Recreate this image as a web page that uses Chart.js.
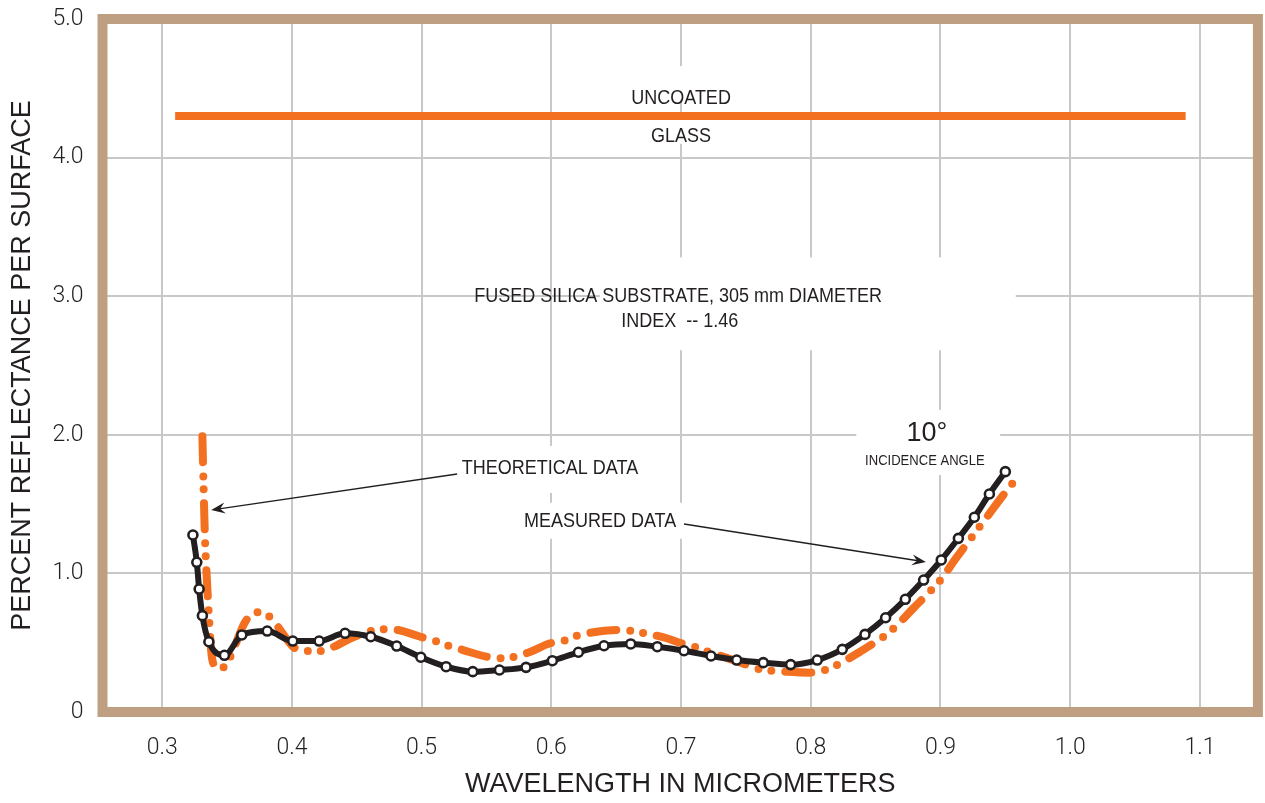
<!DOCTYPE html>
<html>
<head>
<meta charset="utf-8">
<title>Percent reflectance per surface</title>
<script src="https://cdn.jsdelivr.net/npm/chart.js@4.4.1/dist/chart.umd.min.js"></script>
<style>
  html, body { margin: 0; padding: 0; background: #fff; }
  #wrap { width: 1265px; height: 803px; }
</style>
</head>
<body>
<div id="wrap"><canvas id="reflChart" width="1265" height="803"></canvas></div>
<script>
// axis ticks
const xTicks = [0.3, 0.4, 0.5, 0.6, 0.7, 0.8, 0.9, 1.0, 1.1];
const yTicks = [0, 1, 2, 3, 4, 5];

// measured reflectance (%), wavelength in micrometers
const measuredWl = [0.3237, 0.3267, 0.3285, 0.331, 0.336, 0.348, 0.3614, 0.381, 0.4007, 0.421,
  0.441, 0.4608, 0.4808, 0.4994, 0.5189, 0.5394, 0.56, 0.5805, 0.6008, 0.6209,
  0.6406, 0.6612, 0.6817, 0.7023, 0.7231, 0.7429, 0.7634, 0.7845, 0.805, 0.8243,
  0.8418, 0.8577, 0.8729, 0.887, 0.9006, 0.9138, 0.9261, 0.9377, 0.95];
const measuredPct = [1.277, 1.08, 0.887, 0.695, 0.507, 0.409, 0.556, 0.584, 0.512, 0.512,
  0.568, 0.543, 0.476, 0.395, 0.327, 0.291, 0.303, 0.322, 0.37, 0.431,
  0.478, 0.491, 0.471, 0.442, 0.404, 0.375, 0.356, 0.342, 0.375, 0.452,
  0.56, 0.68, 0.813, 0.952, 1.097, 1.253, 1.405, 1.573, 1.734];

// theoretical reflectance (%)
const theoryWl = [0.331, 0.332, 0.333, 0.3345, 0.336, 0.338, 0.341, 0.345, 0.352, 0.364,
  0.372, 0.381, 0.388, 0.401, 0.41, 0.421, 0.432, 0.445, 0.459, 0.469,
  0.481, 0.499, 0.51, 0.519, 0.532, 0.55, 0.56, 0.57, 0.584, 0.599,
  0.609, 0.619, 0.635, 0.65, 0.66, 0.67, 0.689, 0.699, 0.71, 0.721,
  0.744, 0.758, 0.769, 0.781, 0.799, 0.81, 0.82, 0.838, 0.856, 0.864,
  0.879, 0.893, 0.9, 0.912, 0.924, 0.936, 0.948, 0.9555];
const theoryPct = [1.99, 1.6, 1.25, 0.95, 0.7, 0.42, 0.33, 0.31, 0.39, 0.65,
  0.72, 0.7, 0.63, 0.47, 0.44, 0.44, 0.47, 0.53, 0.58, 0.597,
  0.592, 0.543, 0.514, 0.483, 0.447, 0.399, 0.387, 0.395, 0.435, 0.496,
  0.512, 0.548, 0.579, 0.592, 0.587, 0.572, 0.532, 0.5, 0.471, 0.435,
  0.363, 0.315, 0.298, 0.29, 0.284, 0.3, 0.338, 0.435, 0.543, 0.604,
  0.748, 0.88, 0.952, 1.11, 1.26, 1.41, 1.56, 1.65];

// uncoated glass reference level
const uncoatedWl = [0.31, 1.089];
const uncoatedPct = [4.3, 4.3];

const ORANGE = '#f37021';
const INK = '#231f20';
const FRAME = '#bf9f82';

const toXY = (xs, ys) => xs.map((x, i) => ({ x: x, y: ys[i] }));

// text labels placed in data units, squeezed sideways for a condensed look
const labels = [
  { text: 'UNCOATED', x: 0.7, y: 4.43, size: 20, squeeze: 0.9 },
  { text: 'GLASS', x: 0.7, y: 4.15, size: 20, squeeze: 0.9 },
  { text: 'FUSED SILICA SUBSTRATE, 305 mm DIAMETER', x: 0.6977, y: 3.0, size: 20, squeeze: 0.9 },
  { text: 'INDEX  -- 1.46', x: 0.699, y: 2.814, size: 20, squeeze: 0.9 },
  { text: 'THEORETICAL DATA', x: 0.599, y: 1.76, size: 20, squeeze: 0.9 },
  { text: 'MEASURED DATA', x: 0.6376, y: 1.378, size: 20, squeeze: 0.9 },
  { text: '10°', x: 0.8896, y: 2.006, size: 27, squeeze: 1 },
  { text: 'INCIDENCE ANGLE', x: 0.888, y: 1.811, size: 15, squeeze: 0.87 }
];
const masks = [
  // [xMin, xMax, yMax, yMin] in data units, white boxes that cut the grid
  [0.6459, 0.7399, 4.66, 4.42],
  [0.6613, 0.7245, 4.33, 4.1],
  [0.6374, 0.9580, 3.28, 2.61],
  [0.5258, 0.6724, 1.92, 1.58],
  [0.5720, 0.7030, 1.51, 1.25],
  [0.8351, 0.9460, 2.18, 1.71]
];
const arrows = [
  // tail x, tail y, tip x, tip y
  [0.5274, 1.717, 0.3378, 1.457],
  [0.7023, 1.356, 0.8888, 1.082]
];

function drawArrow(ctx, x1, y1, x2, y2) {
  const ang = Math.atan2(y2 - y1, x2 - x1);
  ctx.save();
  ctx.strokeStyle = INK;
  ctx.fillStyle = INK;
  ctx.lineWidth = 1.4;
  ctx.beginPath();
  ctx.moveTo(x1, y1);
  ctx.lineTo(x2 - 8 * Math.cos(ang), y2 - 8 * Math.sin(ang));
  ctx.stroke();
  ctx.translate(x2, y2);
  ctx.rotate(ang);
  ctx.beginPath();
  ctx.moveTo(0, 0);
  ctx.lineTo(-14, -5.5);
  ctx.lineTo(-9, 0);
  ctx.lineTo(-14, 5.5);
  ctx.closePath();
  ctx.fill();
  ctx.restore();
}

const annotate = {
  id: 'annotate',
  beforeDatasetsDraw(chart) {
    const { ctx, chartArea: a, scales: { x, y } } = chart;
    ctx.save();
    ctx.fillStyle = '#fff';
    masks.forEach(m => {
      const l = x.getPixelForValue(m[0]), r = x.getPixelForValue(m[1]);
      const t = y.getPixelForValue(m[2]), b = y.getPixelForValue(m[3]);
      ctx.fillRect(l, t, r - l, b - t);
    });
    ctx.fillStyle = INK;
    ctx.textAlign = 'center';
    ctx.textBaseline = 'middle';
    labels.forEach(lb => {
      ctx.save();
      ctx.translate(x.getPixelForValue(lb.x), y.getPixelForValue(lb.y));
      ctx.scale(lb.squeeze, 1);
      ctx.font = lb.size + 'px "Liberation Sans", Arial, sans-serif';
      ctx.fillText(lb.text, 0, 0);
      ctx.restore();
    });
    // heavy frame round the plot
    ctx.strokeStyle = FRAME;
    ctx.lineWidth = 10;
    ctx.strokeRect(a.left, a.top, a.right - a.left, a.bottom - a.top);
    ctx.restore();
  },
  afterDatasetsDraw(chart) {
    const { ctx, scales: { x, y } } = chart;
    arrows.forEach(p => drawArrow(ctx,
      x.getPixelForValue(p[0]), y.getPixelForValue(p[1]),
      x.getPixelForValue(p[2]), y.getPixelForValue(p[3])));
  }
};

new Chart(document.getElementById('reflChart'), {
  type: 'line',
  data: {
    datasets: [
      {
        label: 'Measured data',
        data: toXY(measuredWl, measuredPct),
        borderColor: INK,
        borderWidth: 6,
        cubicInterpolationMode: 'monotone',
        pointRadius: 4.5,
        pointBorderWidth: 2.6,
        pointBackgroundColor: '#fff',
        pointBorderColor: INK
      },
      {
        label: 'Theoretical data',
        data: toXY(theoryWl, theoryPct),
        borderColor: ORANGE,
        borderWidth: 8,
        borderDash: [26, 14, 0, 13, 0, 14],
        borderCapStyle: 'round',
        cubicInterpolationMode: 'monotone',
        pointRadius: 0
      },
      {
        label: 'Uncoated glass',
        data: toXY(uncoatedWl, uncoatedPct),
        borderColor: ORANGE,
        borderWidth: 8,
        pointRadius: 0
      }
    ]
  },
  options: {
    responsive: false,
    animation: false,
    layout: { padding: { top: 19, right: 7, left: 0, bottom: 0 } },
    plugins: { legend: { display: false }, tooltip: { enabled: false } },
    scales: {
      x: {
        type: 'linear',
        min: 0.254,
        max: 1.1447,
        afterFit: s => { s.height = 91; s.paddingLeft = 0; s.paddingRight = 0; },
        afterBuildTicks: s => { s.ticks = xTicks.map(v => ({ value: v })); },
        grid: { color: '#c8c8c8', lineWidth: 2, drawTicks: false },
        border: { display: false },
        ticks: {
          padding: 22,
          color: INK,
          font: { family: 'Roboto', size: 23, weight: 300 },
          callback: v => v.toFixed(1)
        },
        title: {
          display: true,
          text: 'WAVELENGTH IN MICROMETERS',
          color: INK,
          font: { family: '"Liberation Sans", Arial', size: 27 },
          padding: { top: 0, bottom: 2 }
        }
      },
      y: {
        min: 0,
        max: 5,
        afterFit: s => { s.width = 102.5; s.paddingTop = 0; s.paddingBottom = 0; },
        afterBuildTicks: s => { s.ticks = yTicks.map(v => ({ value: v })); },
        grid: { color: '#c8c8c8', lineWidth: 2, drawTicks: false },
        border: { display: false },
        ticks: {
          padding: 19,
          color: INK,
          font: { family: 'Roboto', size: 23, weight: 300 },
          callback: v => (v === 0 ? '0' : v.toFixed(1))
        },
        title: {
          display: true,
          text: 'PERCENT REFLECTANCE PER SURFACE',
          color: INK,
          font: { family: '"Liberation Sans", Arial', size: 27 },
          padding: { top: 6, bottom: 0 }
        }
      }
    }
  },
  plugins: [annotate]
});
</script>
</body>
</html>
